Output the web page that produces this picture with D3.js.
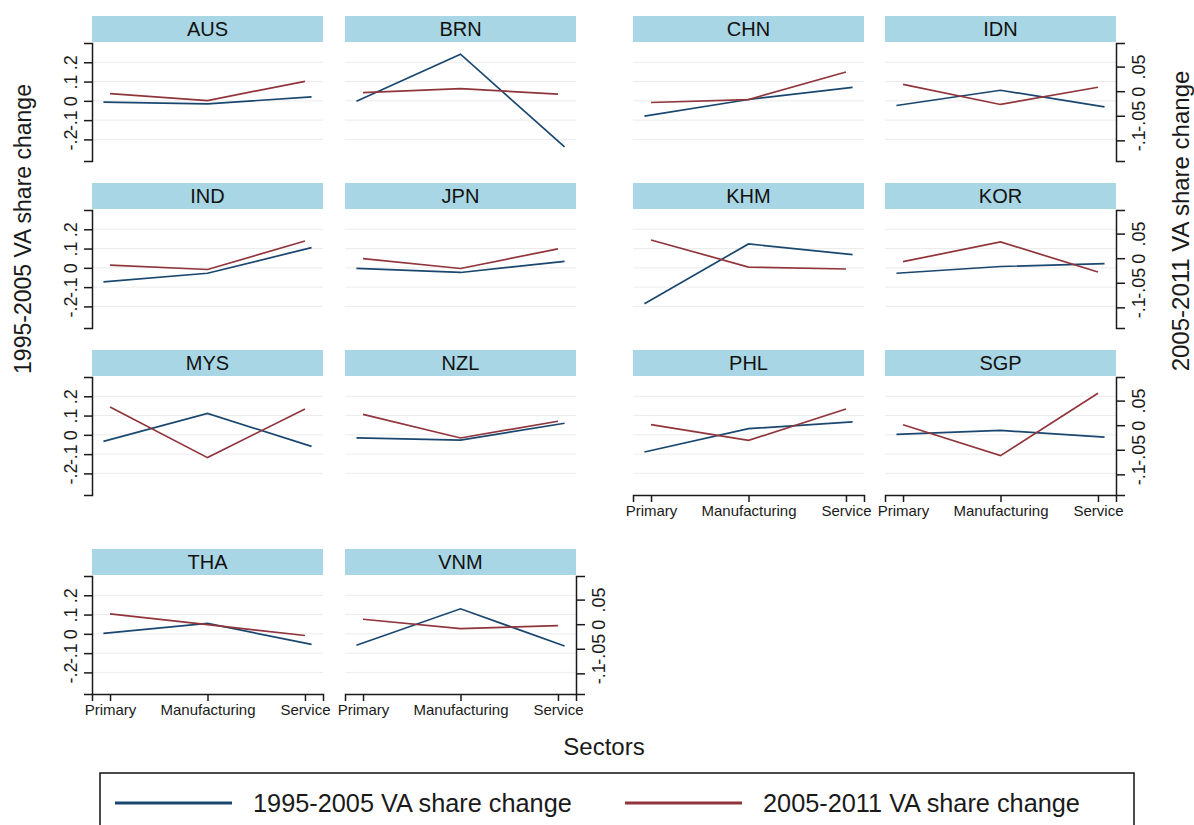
<!DOCTYPE html>
<html>
<head>
<meta charset="utf-8">
<script src="https://cdn.jsdelivr.net/npm/d3@7"></script>
<style>
  body { margin: 0; background: #fff; }
  svg { display: block; font-family: "Liberation Sans", Arial, sans-serif; }
</style>
</head>
<body>
<svg id="chart" width="1194" height="825"></svg>
<script>
// Value-added share change by sector, per economy
const countries = ["AUS", "BRN", "CHN", "IDN", "IND", "JPN", "KHM", "KOR",
                   "MYS", "NZL", "PHL", "SGP", "THA", "VNM"];
const sectors = ["Primary", "Manufacturing", "Service"];

// 1995-2005 change (left axis), one row per economy: Primary, Manufacturing, Service
const change9505 = [
  [-0.007, -0.016,  0.021],
  [-0.002,  0.242, -0.239],
  [-0.079,  0.007,  0.070],
  [-0.024,  0.055, -0.031],
  [-0.073, -0.028,  0.105],
  [-0.003, -0.024,  0.034],
  [-0.186,  0.124,  0.069],
  [-0.028,  0.007,  0.022],
  [-0.034,  0.111, -0.060],
  [-0.016, -0.027,  0.060],
  [-0.089,  0.032,  0.067],
  [ 0.002,  0.023, -0.012],
  [ 0.002,  0.054, -0.055],
  [-0.059,  0.130, -0.063]
];

// 2005-2011 change (right axis)
const change0511 = [
  [-0.005, -0.019,  0.020],
  [-0.003,  0.005, -0.006],
  [-0.023, -0.017,  0.039],
  [ 0.014, -0.027,  0.008],
  [-0.014, -0.023,  0.035],
  [-0.001, -0.021,  0.019],
  [ 0.037, -0.018, -0.022],
  [-0.007,  0.033, -0.028],
  [ 0.037, -0.066,  0.033],
  [ 0.022, -0.026,  0.008],
  [ 0.001, -0.031,  0.033],
  [ 0.001, -0.062,  0.065],
  [ 0.021, -0.001, -0.023],
  [ 0.010, -0.009, -0.003]
];

const leftTicks = [-0.2, -0.1, 0, 0.1, 0.2];
const leftTickLabels = ["-.2", "-.1", "0", ".1", ".2"];
const rightTicks = [-0.1, -0.05, 0, 0.05];
const rightTickLabels = ["-.1", "-.05", "0", ".05"];
const seriesNames = ["1995-2005 VA share change", "2005-2011 VA share change"];
const seriesColors = ["#1a476f", "#90353b"];

// Layout
const svg = d3.select("#chart");
const nCols = 4;
const panelW = 231;
const plotH = 118;
const stripH = 26;
const colX = [92, 345, 633, 885];
const rowPlotTop = [43, 210, 377, 576];

const yLeft = d3.scaleLinear().domain([-0.312, 0.3]).range([plotH, 0]);
const yRight = d3.scaleLinear().domain([-0.142, 0.098]).range([plotH, 0]);
const xAxisScale = d3.scalePoint().domain(sectors).range([0, panelW]).padding(0.185);
const xFirst = d3.scalePoint().domain(sectors).range([0, panelW]).padding(0.11);

const lineFirst = d3.line().x((d, i) => xFirst(sectors[i])).y(d => yLeft(d));
const lineSecond = d3.line().x((d, i) => xAxisScale(sectors[i])).y(d => yRight(d));

countries.forEach((c, i) => {
  const row = Math.floor(i / nCols), col = i % nCols;
  const g = svg.append("g").attr("transform", `translate(${colX[col]},${rowPlotTop[row]})`);

  // strip title
  g.append("rect").attr("x", 0).attr("y", -stripH - 1).attr("width", panelW).attr("height", stripH)
    .attr("fill", "#a9d6e4");
  g.append("text").attr("x", panelW / 2).attr("y", -stripH / 2 - 1).attr("dy", "0.36em")
    .attr("text-anchor", "middle").attr("font-size", 20).attr("fill", "#111").text(c);

  // horizontal grid
  g.selectAll("line.grid").data(leftTicks).join("line").attr("class", "grid")
    .attr("x1", 0).attr("x2", panelW)
    .attr("y1", d => yLeft(d)).attr("y2", d => yLeft(d))
    .attr("stroke", "#ececec").attr("stroke-width", 1);

  // series lines
  g.append("path").attr("d", lineFirst(change9505[i])).attr("fill", "none")
    .attr("stroke", seriesColors[0]).attr("stroke-width", 1.7);
  g.append("path").attr("d", lineSecond(change0511[i])).attr("fill", "none")
    .attr("stroke", seriesColors[1]).attr("stroke-width", 1.7);

  // left axis on the first column
  if (col === 0) {
    const ax = g.append("g").call(d3.axisLeft(yLeft).tickValues(leftTicks).tickSize(8)
      .tickFormat((d, k) => leftTickLabels[k]));
    styleAxis(ax);
    ax.selectAll("text").attr("x", null).attr("dy", null).attr("text-anchor", "middle")
      .attr("transform", "translate(-15,0) rotate(-90)");
  }
  // right axis on the last column and the last panel
  if (col === nCols - 1 || i === countries.length - 1) {
    const ax = g.append("g").attr("transform", `translate(${panelW},0)`)
      .call(d3.axisRight(yRight).tickValues(rightTicks).tickSize(9)
        .tickFormat((d, k) => rightTickLabels[k]));
    styleAxis(ax);
    ax.selectAll("text").attr("x", null).attr("dy", null).attr("text-anchor", "middle")
      .attr("transform", "translate(29,0) rotate(-90)");
  }
  // x axis where no panel sits below
  if (i + nCols >= countries.length) {
    const ax = g.append("g").attr("transform", `translate(0,${plotH})`)
      .call(d3.axisBottom(xAxisScale).tickSize(7).tickPadding(3));
    styleAxis(ax);
    ax.selectAll("text").attr("font-size", 15);
  }
});

function styleAxis(ax) {
  ax.select(".domain").attr("stroke", "#1a1a1a").attr("stroke-width", 1.5);
  ax.selectAll(".tick line").attr("stroke", "#1a1a1a").attr("stroke-width", 1.5);
  ax.selectAll("text").attr("font-size", 18).attr("fill", "#1a1a1a")
    .attr("font-family", "'Liberation Sans', Arial, sans-serif");
  ax.attr("font-family", null).attr("font-size", null);
}

// axis titles
svg.append("text").attr("transform", "translate(31,229) rotate(-90)")
  .attr("text-anchor", "middle").attr("font-size", 23).attr("fill", "#1a1a1a").text(seriesNames[0]);
svg.append("text").attr("transform", "translate(1189,221) rotate(-90)")
  .attr("text-anchor", "middle").attr("font-size", 24).attr("fill", "#1a1a1a").text(seriesNames[1]);
svg.append("text").attr("x", 604).attr("y", 755).attr("text-anchor", "middle")
  .attr("font-size", 24).attr("fill", "#1a1a1a").text("Sectors");

// legend
const legend = svg.append("g");
legend.append("rect").attr("x", 100).attr("y", 773).attr("width", 1034).attr("height", 70)
  .attr("fill", "#fff").attr("stroke", "#111").attr("stroke-width", 1.5);
const legendX = [115, 625];
seriesNames.forEach((name, k) => {
  legend.append("line").attr("x1", legendX[k]).attr("x2", legendX[k] + 117)
    .attr("y1", 803).attr("y2", 803).attr("stroke", seriesColors[k]).attr("stroke-width", 3);
  legend.append("text").attr("x", legendX[k] + 138).attr("y", 803).attr("dy", "0.36em")
    .attr("font-size", 25.3).attr("fill", "#1a1a1a").text(name);
});
</script>
</body>
</html>
